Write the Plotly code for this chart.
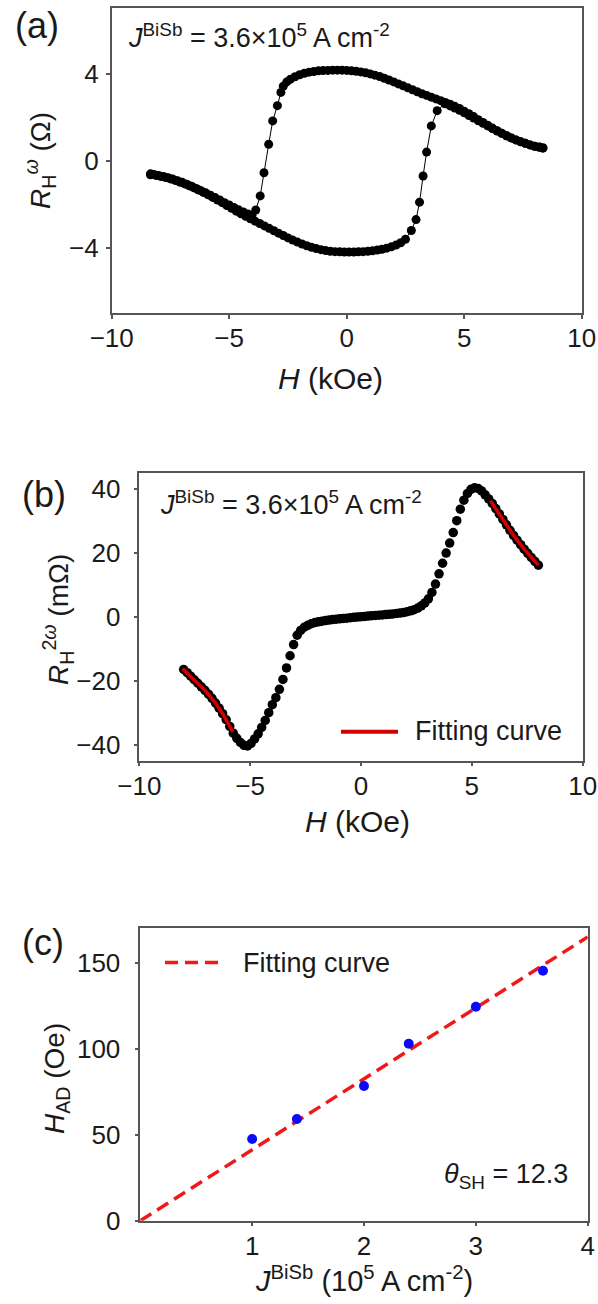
import plotly.graph_objects as go

# ---------------- Panel (a): first-harmonic Hall resistance loop ----------------
# sweep from +H to -H
a_down_h = [8.35, 8.2, 8.0, 7.8, 7.6, 7.4, 7.2, 7.0, 6.8, 6.6, 6.4, 6.2, 6.0, 5.8, 5.6, 5.4,
            5.2, 5.0, 4.8, 4.6, 4.4, 4.2, 4.0, 3.8, 3.6, 3.4, 3.2, 3.0, 2.8, 2.6, 2.4, 2.2,
            2.0, 1.8, 1.6, 1.4, 1.2, 1.0, 0.8, 0.6, 0.4, 0.2, 0.0, -0.2, -0.4, -0.6, -0.8,
            -1.0, -1.2, -1.4, -1.6, -1.8, -2.0, -2.2, -2.4, -2.55, -2.7,
            -2.8, -2.95, -3.15, -3.32, -3.52, -3.68, -3.87,
            -4.03, -4.2, -4.4, -4.6, -4.8, -5.0, -5.2, -5.4, -5.6, -5.8, -6.0, -6.2, -6.4,
            -6.6, -6.8, -7.0, -7.2, -7.4, -7.6, -7.8, -8.0, -8.2, -8.35]
a_down_r = [0.60, 0.63, 0.67, 0.73, 0.80, 0.87, 0.96, 1.05, 1.15, 1.26, 1.38, 1.50, 1.63, 1.76, 1.89, 2.03,
            2.16, 2.28, 2.40, 2.50, 2.60, 2.68, 2.76, 2.84, 2.92, 3.00, 3.08, 3.17, 3.26, 3.35, 3.44, 3.53,
            3.62, 3.71, 3.79, 3.87, 3.93, 3.99, 4.04, 4.08, 4.11, 4.13, 4.15, 4.16, 4.16, 4.16, 4.15,
            4.14, 4.13, 4.10, 4.07, 4.02, 3.95, 3.86, 3.74, 3.62, 3.42,
            3.14, 2.53, 1.83, 0.76, -0.55, -1.61, -2.26,
            -2.50, -2.44, -2.35, -2.25, -2.14, -2.03, -1.92, -1.80, -1.69, -1.58, -1.47, -1.37, -1.27,
            -1.17, -1.08, -0.99, -0.91, -0.84, -0.78, -0.72, -0.67, -0.63, -0.60]
# sweep from -H to +H
a_up_h = [-8.35, -8.1, -7.9, -7.7, -7.5, -7.3, -7.1, -6.9, -6.7, -6.5, -6.3, -6.1, -5.9, -5.7, -5.5,
          -5.3, -5.1, -4.9, -4.7, -4.5, -4.3, -4.1, -3.9, -3.7, -3.5, -3.3, -3.1, -2.9, -2.7, -2.5,
          -2.3, -2.1, -1.9, -1.7, -1.5, -1.3, -1.1, -0.9, -0.7, -0.5, -0.3, -0.1, 0.1, 0.3, 0.5,
          0.7, 0.9, 1.1, 1.3, 1.5, 1.7, 1.9, 2.1, 2.3, 2.5,
          2.75, 2.95, 3.1, 3.25, 3.4, 3.6, 3.85,
          4.18, 4.4, 4.6, 4.8, 5.0, 5.2, 5.4, 5.6, 5.8, 6.0, 6.2, 6.4, 6.6, 6.8, 7.0, 7.2,
          7.4, 7.6, 7.8, 8.0, 8.2, 8.35]
a_up_r = [-0.64, -0.68, -0.72, -0.77, -0.83, -0.90, -0.98, -1.06, -1.15, -1.24, -1.34, -1.45, -1.56, -1.68, -1.80,
          -1.92, -2.05, -2.18, -2.31, -2.43, -2.55, -2.66, -2.77, -2.88, -2.99, -3.10, -3.21, -3.32, -3.43, -3.54,
          -3.64, -3.73, -3.82, -3.90, -3.97, -4.03, -4.08, -4.12, -4.15, -4.17, -4.18, -4.19, -4.19, -4.19, -4.18,
          -4.17, -4.15, -4.13, -4.10, -4.06, -4.01, -3.95, -3.87, -3.76, -3.60,
          -3.20, -2.70, -1.90, -0.70, 0.40, 1.60, 2.30,
          2.62, 2.52, 2.42, 2.32, 2.20, 2.08, 1.96, 1.84, 1.72, 1.60, 1.48, 1.37, 1.26, 1.15, 1.05, 0.96,
          0.88, 0.80, 0.73, 0.67, 0.62, 0.58]

# ---------------- Panel (b): second-harmonic Hall resistance ----------------
b_h = [-8.00, -7.84, -7.68, -7.52, -7.36, -7.20, -7.04, -6.88, -6.72, -6.56, -6.40, -6.24, -6.08,
       -5.92, -5.76, -5.60, -5.44, -5.28, -5.12, -4.96, -4.80, -4.64, -4.48, -4.32, -4.16, -4.00,
       -3.84, -3.68, -3.52, -3.36, -3.20, -3.04, -2.88, -2.72, -2.56, -2.40, -2.24, -2.08, -1.92,
       -1.76, -1.60, -1.44, -1.28, -1.12, -0.96, -0.80, -0.64, -0.48, -0.32, -0.16, 0.00,
       0.16, 0.32, 0.48, 0.64, 0.80, 0.96, 1.12, 1.28, 1.44, 1.60, 1.76, 1.92, 2.08, 2.24, 2.40,
       2.56, 2.72, 2.88, 3.04, 3.20, 3.36, 3.52, 3.68, 3.84, 4.00, 4.16, 4.32, 4.48, 4.64, 4.80,
       4.96, 5.12, 5.28, 5.44, 5.60, 5.76, 5.92, 6.08, 6.24, 6.40, 6.56, 6.72, 6.88, 7.04, 7.20,
       7.36, 7.52, 7.68, 7.84, 8.00]
b_r = [-16.5, -17.5, -18.6, -19.7, -20.8, -21.9, -23.0, -24.2, -25.5, -27.0, -28.6, -30.3, -32.2,
       -34.3, -36.4, -38.0, -39.3, -40.2, -40.4, -39.6, -38.2, -36.6, -34.6, -32.4, -30.0, -27.5,
       -25.3, -22.7, -19.6, -16.0, -12.2, -8.7, -5.8, -4.3, -3.3, -2.7, -2.2, -1.85, -1.6,
       -1.4, -1.2, -1.05, -0.9, -0.8, -0.65, -0.55, -0.45, -0.3, -0.2, -0.1, 0.0,
       0.1, 0.2, 0.3, 0.4, 0.45, 0.55, 0.65, 0.75, 0.85, 1.0, 1.15, 1.3, 1.55, 1.85, 2.2,
       2.7, 3.4, 4.3, 5.6, 7.6, 10.2, 13.4, 16.7, 19.9, 23.0, 26.3, 30.0, 33.6, 36.4, 38.5,
       39.8, 40.3, 40.1, 39.3, 38.1, 36.8, 35.4, 33.8, 32.1, 30.4, 28.7, 27.0, 25.4, 23.9, 22.5,
       21.1, 19.8, 18.5, 17.3, 16.1]
b_fit_left_h = [-8.05, -7.52, -7.04, -6.56, -6.24, -5.92, -5.78]
b_fit_left_r = [-16.3, -19.7, -23.0, -27.0, -30.3, -34.3, -36.0]
b_fit_right_h = [5.84, 6.08, 6.40, 6.88, 7.36, 7.84, 8.00]
b_fit_right_r = [36.2, 33.8, 30.4, 25.4, 21.1, 17.3, 16.1]

# ---------------- Panel (c): H_AD vs current density ----------------
c_j = [1.0, 1.4, 2.0, 2.4, 3.0, 3.6]
c_had = [47.5, 59.1, 78.3, 102.9, 124.4, 145.3]
c_fit_j = [0, 4]
c_fit_had = [0, 165]

FONT = "Liberation Sans, Arial, sans-serif"
AXC = "#555555"
W, H = 598, 1304

fig = go.Figure()

fig.add_trace(go.Scatter(x=a_down_h, y=a_down_r, mode="lines+markers",
                         line=dict(color="black", width=1),
                         marker=dict(color="black", size=9), xaxis="x", yaxis="y"))
fig.add_trace(go.Scatter(x=a_up_h, y=a_up_r, mode="lines+markers",
                         line=dict(color="black", width=1),
                         marker=dict(color="black", size=9), xaxis="x", yaxis="y"))

fig.add_trace(go.Scatter(x=b_h, y=b_r, mode="markers",
                         marker=dict(color="black", size=9.5), xaxis="x2", yaxis="y2"))
for hx, ry in ((b_fit_left_h, b_fit_left_r), (b_fit_right_h, b_fit_right_r)):
    fig.add_trace(go.Scatter(x=hx, y=ry, mode="lines", line=dict(color="#d40000", width=3.5),
                             xaxis="x2", yaxis="y2"))

fig.add_trace(go.Scatter(x=c_fit_j, y=c_fit_had, mode="lines",
                         line=dict(color="#f01818", width=3.5, dash="13px,7px"),
                         xaxis="x3", yaxis="y3"))
fig.add_trace(go.Scatter(x=c_j, y=c_had, mode="markers",
                         marker=dict(color="#0a0aff", size=10), xaxis="x3", yaxis="y3"))


def ax(domain, rng, tickvals, anchor, standoff):
    return dict(domain=domain, range=rng, tickvals=tickvals, anchor=anchor,
                automargin=False,
                showline=True, linecolor=AXC, linewidth=1.5, mirror=True,
                ticks="outside", ticklen=4, tickwidth=1.5, tickcolor=AXC,
                showgrid=False, zeroline=False, ticklabelstandoff=standoff,
                tickfont=dict(family=FONT, size=26, color="#1a1a1a"))


def px_x(p):
    return p / W


def px_y(p):
    return 1 - p / H


fig.update_layout(
    template="none",
    width=W, height=H, margin=dict(l=0, r=0, t=0, b=0, autoexpand=False), autosize=False,
    paper_bgcolor="white", plot_bgcolor="white", showlegend=False,
    xaxis=ax([px_x(111.7), px_x(581.7)], [-10, 10], [-10, -5, 0, 5, 10], "y", -3),
    yaxis=ax([px_y(313.3), px_y(8.3)], [-7, 7], [-4, 0, 4], "x", 2),
    xaxis2=ax([px_x(139.3), px_x(582.7)], [-10, 10], [-10, -5, 0, 5, 10], "y2", -3),
    yaxis2=ax([px_y(760.7), px_y(472.7)], [-45, 45], [-40, -20, 0, 20, 40], "x2", 8),
    xaxis3=ax([px_x(140.3), px_x(587.7)], [0, 4], [1, 2, 3, 4], "y3", -3),
    yaxis3=ax([px_y(1220.7), px_y(928.3)], [0, 170], [0, 50, 100, 150], "x3", 9),
)

ann = []


def text(x, y, s, size, xanchor="center", yanchor="middle", angle=0, color="#1a1a1a"):
    ann.append(dict(x=px_x(x), y=px_y(y), xref="paper", yref="paper", text=s,
                    showarrow=False, xanchor=xanchor, yanchor=yanchor, textangle=angle,
                    font=dict(family=FONT, size=size, color=color)))


# panel labels
text(37, 26, "(a)", 36)
text(44, 495, "(b)", 36)
text(43, 942, "(c)", 36)

# panel (a)
text(126, 36, "<i>J</i><sup>BiSb</sup> = 3.6×10<sup>5</sup> A cm<sup>-2</sup>", 27, xanchor="left")
text(40, 161, "<i>R</i><sub>H</sub><sup><i>ω</i></sup> (Ω)", 28, angle=-90)
text(330, 379, "<i>H</i> (kOe)", 30)

# panel (b)
text(158, 503, "<i>J</i><sup>BiSb</sup> = 3.6×10<sup>5</sup> A cm<sup>-2</sup>", 27, xanchor="left")
text(58, 620, "<i>R</i><sub>H</sub><sup>2<i>ω</i></sup> (mΩ)", 28, angle=-90)
text(357, 821, "<i>H</i> (kOe)", 30)
text(413, 731, "Fitting curve", 27, xanchor="left")

# panel (c)
text(241, 963, "Fitting curve", 27, xanchor="left")
text(570, 1176, "<i>θ</i><sub>SH</sub> = 12.3", 27, xanchor="right")
text(56, 1078, "<i>H</i><sub>AD</sub> (Oe)", 28, angle=-90)
text(364, 1279, "<i>J</i><sup>BiSb</sup> (10<sup>5</sup> A cm<sup>-2</sup>)", 29)

fig.update_layout(annotations=ann)

fig.add_shape(type="line", xref="paper", yref="paper",
              x0=px_x(341), x1=px_x(398), y0=px_y(731.7), y1=px_y(731.7),
              line=dict(color="#d40000", width=4))
fig.add_shape(type="line", xref="paper", yref="paper",
              x0=px_x(165), x1=px_x(218), y0=px_y(962.5), y1=px_y(962.5),
              line=dict(color="#f01818", width=3.5, dash="13px,7px"))

fig.write_html("out.html", config={"displayModeBar": False},
               post_script="document.body.style.margin='0';document.body.style.padding='0';")
